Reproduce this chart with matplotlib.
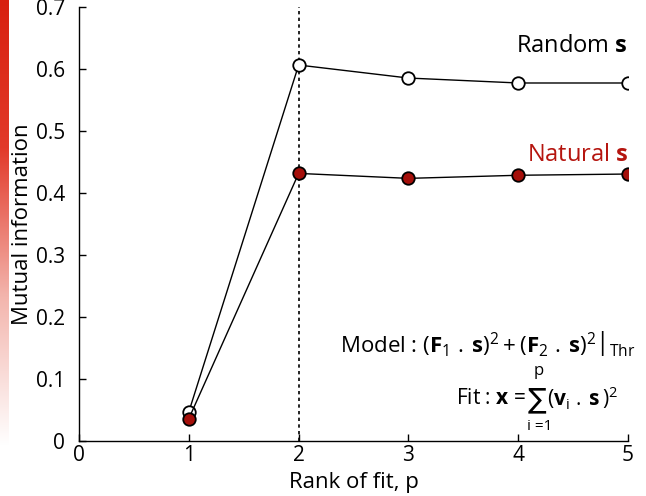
import numpy as np
import matplotlib
matplotlib.use("Agg")
import matplotlib.pyplot as plt
from matplotlib.colors import LinearSegmentedColormap

plt.rcParams['font.family'] = ['Open Sans', 'DejaVu Sans']
plt.rcParams['mathtext.fontset'] = 'custom'
plt.rcParams['mathtext.rm'] = 'Open Sans'
plt.rcParams['mathtext.it'] = 'Open Sans'
plt.rcParams['mathtext.bf'] = 'Open Sans:bold'

rank = [1, 2, 3, 4, 5]
random_s = [0.047, 0.607, 0.586, 0.578, 0.578]
natural_s = [0.036, 0.432, 0.424, 0.429, 0.431]
xticks = [0, 1, 2, 3, 4, 5]
yticks = [0, 0.1, 0.2, 0.3, 0.4, 0.5, 0.6, 0.7]
ytick_labels = ['0', '0.1', '0.2', '0.3', '0.4', '0.5', '0.6', '0.7']
dark_red = '#a50f0a'

W, H = 646, 496
fig = plt.figure(figsize=(W / 100, H / 100), dpi=100)


def fp(px, py):
    return px / W, 1 - py / H


# red gradient strip at the left edge
gax = fig.add_axes([0, 0.1, 0.013, 0.9])
grad = np.linspace(0, 1, 256).reshape(-1, 1)
cmap = LinearSegmentedColormap.from_list('g', ['#ffffff', '#f3b5ad', '#e23a2a', '#d8200f'])
gax.imshow(grad, aspect='auto', cmap=cmap, origin='lower', extent=[0, 1, 0, 1])
gax.axis('off')

ax = fig.add_axes([0.1223, 0.111, 0.85, 0.874])
ax.axvline(2, color='black', linestyle=(0, (2, 2)), linewidth=1.2, zorder=1)
ax.plot(rank, random_s, color='black', linewidth=1.0, marker='o', markersize=9,
        markerfacecolor='white', markeredgecolor='black', markeredgewidth=1.3, zorder=3)
ax.plot(rank, natural_s, color='black', linewidth=1.0, marker='o', markersize=9,
        markerfacecolor=dark_red, markeredgecolor='black', markeredgewidth=1.3, zorder=4)

ax.set_xlim(0, 5)
ax.set_ylim(0, 0.7)
ax.set_xticks(xticks)
ax.set_yticks(yticks)
ax.set_yticklabels(ytick_labels)
ax.spines['top'].set_visible(False)
ax.spines['right'].set_visible(False)
ax.spines['left'].set_linewidth(1.0)
ax.spines['bottom'].set_linewidth(1.0)
ax.tick_params(direction='in', length=5, width=1.0, labelsize=15)
ax.tick_params(axis='y', pad=10)
ax.tick_params(axis='x', pad=3)
ax.set_xlabel('Rank of fit, p', fontsize=16, labelpad=4)
ax.set_ylabel('Mutual information', fontsize=16)
ax.yaxis.set_label_coords(-0.083, 0.5)

ax.text(5.0, 0.638, r'Random $\mathbf{s}$', fontsize=17, ha='right', va='center', color='black')
ax.text(5.0, 0.462, r'Natural $\mathbf{s}$', fontsize=17, ha='right', va='center', color='#b5150f')

# Model formula
fig.text(*fp(636, 343),
         r'Model : $\left.(\mathbf{F}_1\ .\,\mathbf{s})^2 + (\mathbf{F}_2\ .\,\mathbf{s})^2\right|_{\mathrm{Thr}}$',
         fontsize=16, ha='right', va='center')

# Fit formula, built from pieces
fig.text(*fp(526, 398), r'Fit : $\mathbf{x}$ =', fontsize=15, ha='right', va='center')
fig.text(*fp(537, 399), '\u2211', fontsize=20, ha='center', va='center', family=['DejaVu Sans'])
fig.text(*fp(539, 371), 'p', fontsize=12, ha='center', va='center')
fig.text(*fp(540, 426), 'i =1', fontsize=11, ha='center', va='center')
fig.text(*fp(547, 398), r'$(\mathbf{v}_\mathrm{i}\ .\,\mathbf{s}\,)^2$', fontsize=15, ha='left', va='center')

fig.savefig('out.png', dpi=100)
